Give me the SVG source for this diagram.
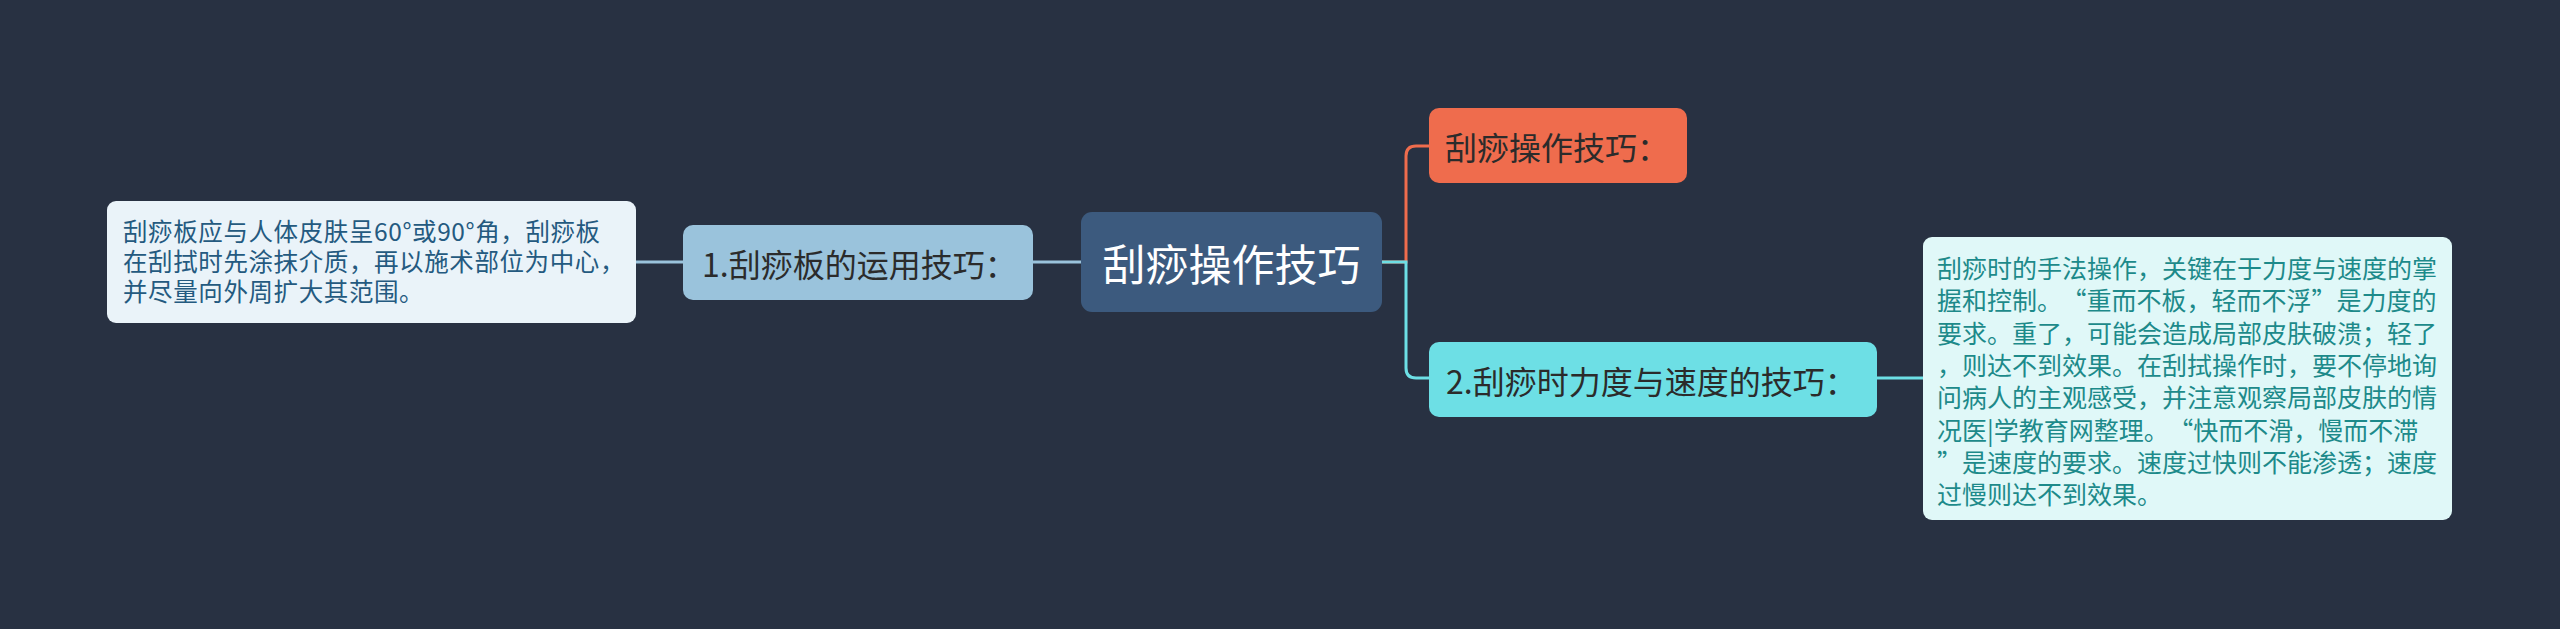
<svg xmlns="http://www.w3.org/2000/svg" width="2560" height="629" viewBox="0 0 2560 629">
<style>
text{font-family:"Noto Sans CJK SC","Noto Sans",sans-serif;dominant-baseline:central}
.c{fill:none;stroke-width:3}
.dk{fill:#2b2b2b;font-size:32px}
.fw{font-feature-settings:"fwid" 1}
</style>
<rect width="2560" height="629" fill="#283142"/>
<g id="connectors">
<path class="c" stroke="#9ac3dc" d="M1081,262 H1033"/>
<path class="c" stroke="#9ac3dc" d="M683,262 H636"/>
<path class="c" stroke="#ef6c4d" d="M1382,262 H1406 V156 Q1406,146 1416,146 H1429"/>
<path class="c" stroke="#6ddfe5" d="M1382,262 H1406 V368 Q1406,378 1416,378 H1429"/>
<path class="c" stroke="#6ddfe5" d="M1877,378 H1923"/>
</g>
<g id="center">
<rect x="1081" y="212" width="301" height="100" rx="11" fill="#3c5a7e"/>
<text x="1231.5" y="262" text-anchor="middle" font-size="43" fill="#ffffff">刮痧操作技巧</text>
</g>
<g id="n-orange">
<rect x="1429" y="108" width="258" height="75" rx="10" fill="#ef6c4d"/>
<text class="dk" x="1445" y="146">刮痧操作技巧：</text>
</g>
<g id="n-cyan">
<rect x="1429" y="342" width="448" height="75" rx="10" fill="#6ddfe5"/>
<text class="dk" x="1446" y="380">2.刮痧时力度与速度的技巧：</text>
</g>
<g id="n-left1">
<rect x="683" y="225" width="350" height="75" rx="10" fill="#9ac3dc"/>
<text class="dk" x="702" y="263">1.刮痧板的运用技巧：</text>
</g>
<g id="n-leftdetail">
<rect x="107" y="201" width="529" height="122" rx="9" fill="#eaf3f9"/>
<text font-size="24.5" letter-spacing="0.6" fill="#245a80"><tspan x="123" y="229.5">刮痧板应与人体皮肤呈60°或90°角，刮痧板</tspan><tspan x="123" y="259.5">在刮拭时先涂抹介质，再以施术部位为中心，</tspan><tspan x="123" y="289.5">并尽量向外周扩大其范围。</tspan></text>
</g>
<g id="n-rightdetail">
<rect x="1923" y="237" width="529" height="283" rx="9" fill="#e0f8f8"/>
<text font-size="25" fill="#1d8a8a"><tspan x="1937" y="267">刮痧时的手法操作，关键在于力度与速度的掌</tspan><tspan x="1937" y="299.3">握和控制。<tspan class="fw" dx="12">“</tspan>重而不板，轻而不浮<tspan class="fw">”</tspan>是力度的</tspan><tspan x="1937" y="331.6">要求。重了，可能会造成局部皮肤破溃；轻了</tspan><tspan x="1937" y="363.9">，则达不到效果。在刮拭操作时，要不停地询</tspan><tspan x="1937" y="396.2">问病人的主观感受，并注意观察局部皮肤的情</tspan><tspan x="1937" y="428.5">况医|学教育网整理。<tspan class="fw" dx="12">“</tspan>快而不滑，慢而不滞</tspan><tspan x="1937" y="460.8"><tspan class="fw">”</tspan>是速度的要求。速度过快则不能渗透；速度</tspan><tspan x="1937" y="493.1">过慢则达不到效果。</tspan></text>
</g>
</svg>
